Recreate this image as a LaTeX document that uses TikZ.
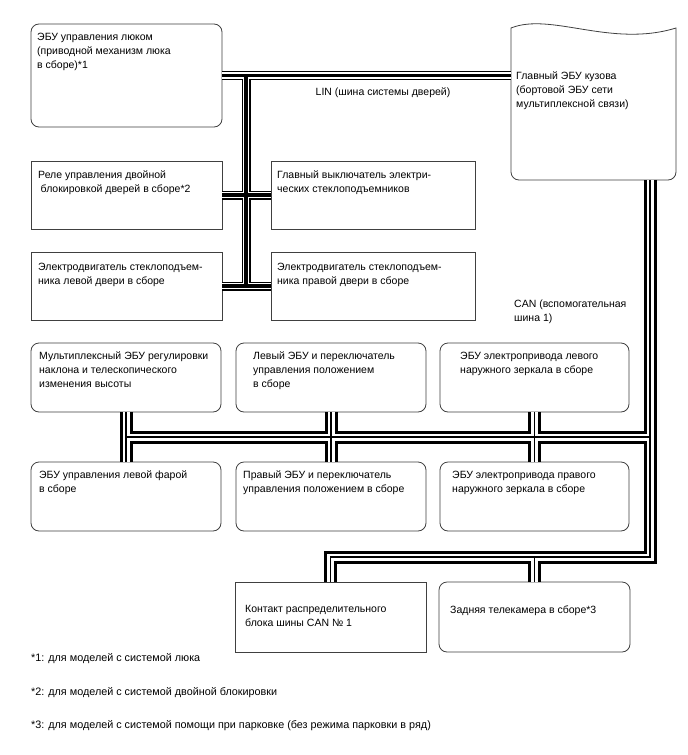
\documentclass[tikz,border=0pt]{standalone}
\usepackage{fontspec}
\setmainfont{Liberation Sans}
\newcommand\buslin[1]{%
  \draw[line width=9pt] #1;
  \draw[line width=6.4pt,white] #1;
  \draw[line width=3.2pt] #1;}
\newcommand\buscan[1]{%
  \draw[line width=13pt] #1;
  \draw[line width=7pt,white] #1;
  \draw[line width=1.3pt] #1;}
\tikzset{
  rbox/.style={draw=black!75, line width=0.8pt, rounded corners=8pt, fill=white, anchor=north west, inner sep=0pt, outer sep=0pt},
  sbox/.style={draw=black!75, line width=0.8pt, fill=white, anchor=north west, inner sep=0pt, outer sep=0pt},
  txt/.style={anchor=north west, inner sep=0pt, align=left, font=\fontsize{10.5}{14}\selectfont},
  note/.style={anchor=north west, inner sep=0pt, align=left, font=\fontsize{10.8}{14}\selectfont},
}
\begin{document}
\begin{tikzpicture}[x=1pt,y=-1pt,line join=miter]
\useasboundingbox[fill=white] (0,0) rectangle (688,755);
% boxes (names for connectors)
\node[rbox, minimum width=191, minimum height=103] (sun) at (31,24) {};
\node[anchor=north west, inner sep=0pt, outer sep=0pt, minimum width=165, minimum height=152] (bcm) at (511,28) {};
\node[sbox, minimum width=191, minimum height=68] (relay) at (31,161) {};
\node[sbox, minimum width=204, minimum height=68] (mainsw) at (271,161) {};
\node[sbox, minimum width=191, minimum height=68] (motL) at (31,252) {};
\node[sbox, minimum width=204, minimum height=68] (motR) at (271,252) {};
\node[rbox, minimum width=190, minimum height=69] (tilt) at (31,343) {};
\node[rbox, minimum width=190, minimum height=69] (lpos) at (236,343) {};
\node[rbox, minimum width=189, minimum height=69] (lmir) at (440,343) {};
\node[rbox, minimum width=190, minimum height=69] (head) at (31,462) {};
\node[rbox, minimum width=190, minimum height=69] (rpos) at (236,462) {};
\node[rbox, minimum width=189, minimum height=69] (rmir) at (440,462) {};
\node[sbox, minimum width=191, minimum height=70] (contact) at (235,582) {};
\node[rbox, minimum width=191, minimum height=70] (camera) at (439,582) {};
% BCM outline
\draw[draw=black!75, line width=0.8pt, fill=white] (511,28) .. controls (551,12) and (611,48) .. (676,28)
  -- (676,172) arc[start angle=0, end angle=90, radius=8] -- (519,180)
  arc[start angle=90, end angle=180, radius=8] -- cycle;
% junction coordinates
\coordinate (linT) at (246,75.5);
\coordinate (tk) at (650,437);
\coordinate (bend) at (650,557);
% LIN bus
\buslin{(sun.east) -- (bcm.west |- sun.east) (linT) -- (linT |- motL.east) (relay.east) -- (mainsw.west) (motL.east) -- (motR.west)}
% CAN bus
\buscan{(tilt.south) -- (head.north) (lpos.south) -- (rpos.north) (lmir.south) -- (rmir.north) (tilt.south |- tk) -- (tk) (bcm.south -| tk) -- (bend) -- (bend -| contact.north) -- (contact.north) (camera.north |- bend) -- (camera.north)}
% texts
\node[txt] (tsun) at (37,30.2) {\strut ЭБУ управления люком\\(приводной механизм люка\\в сборе)*1};
\node[txt] (tbcm) at (516,69.2) {\strut Главный ЭБУ кузова\\(бортовой ЭБУ сети\\мультиплексной связи)};
\node[txt, anchor=north] (tlin) at (383,85.2) {\strut LIN (шина системы дверей)};
\node[txt] (trelay) at (38,168.2) {\strut Реле управления двойной\\\hspace{2.5pt}блокировкой дверей в сборе*2};
\node[txt] (tmainsw) at (277,168.2) {\strut Главный выключатель электри-\\ческих стеклоподъемников};
\node[txt] (tmotL) at (38,260.2) {\strut Электродвигатель стеклоподъем-\\ника левой двери в сборе};
\node[txt] (tmotR) at (277,260.2) {\strut Электродвигатель стеклоподъем-\\ника правой двери в сборе};
\node[txt] (tcan) at (514,297.2) {\strut CAN (вспомогательная\\шина 1)};
\node[txt] (ttilt) at (39,349.2) {\strut Мультиплексный ЭБУ регулировки\\наклона и телескопического\\изменения высоты};
\node[txt] (tlpos) at (253,349.2) {\strut Левый ЭБУ и переключатель\\управления положением\\в сборе};
\node[txt] (tlmir) at (460,349.2) {\strut ЭБУ электропривода левого\\наружного зеркала в сборе};
\node[txt] (thead) at (39,468.2) {\strut ЭБУ управления левой фарой\\в сборе};
\node[txt] (trpos) at (243,468.2) {\strut Правый ЭБУ и переключатель\\управления положением в сборе};
\node[txt] (trmir) at (452,468.2) {\strut ЭБУ электропривода правого\\наружного зеркала в сборе};
\node[txt] (tcontact) at (245,602.2) {\strut Контакт распределительного\\блока шины CAN № 1};
\node[txt] (tcamera) at (450,603.2) {\strut Задняя телекамера в сборе*3};
% footnotes
\node[note] (n1) at (31,651.7) {\strut *1: для моделей с системой люка};
\node[note] (n2) at (31,685.2) {\strut *2: для моделей с системой двойной блокировки};
\node[note] (n3) at (31,718.7) {\strut *3: для моделей с системой помощи при парковке (без режима парковки в ряд)};
\end{tikzpicture}
\end{document}
